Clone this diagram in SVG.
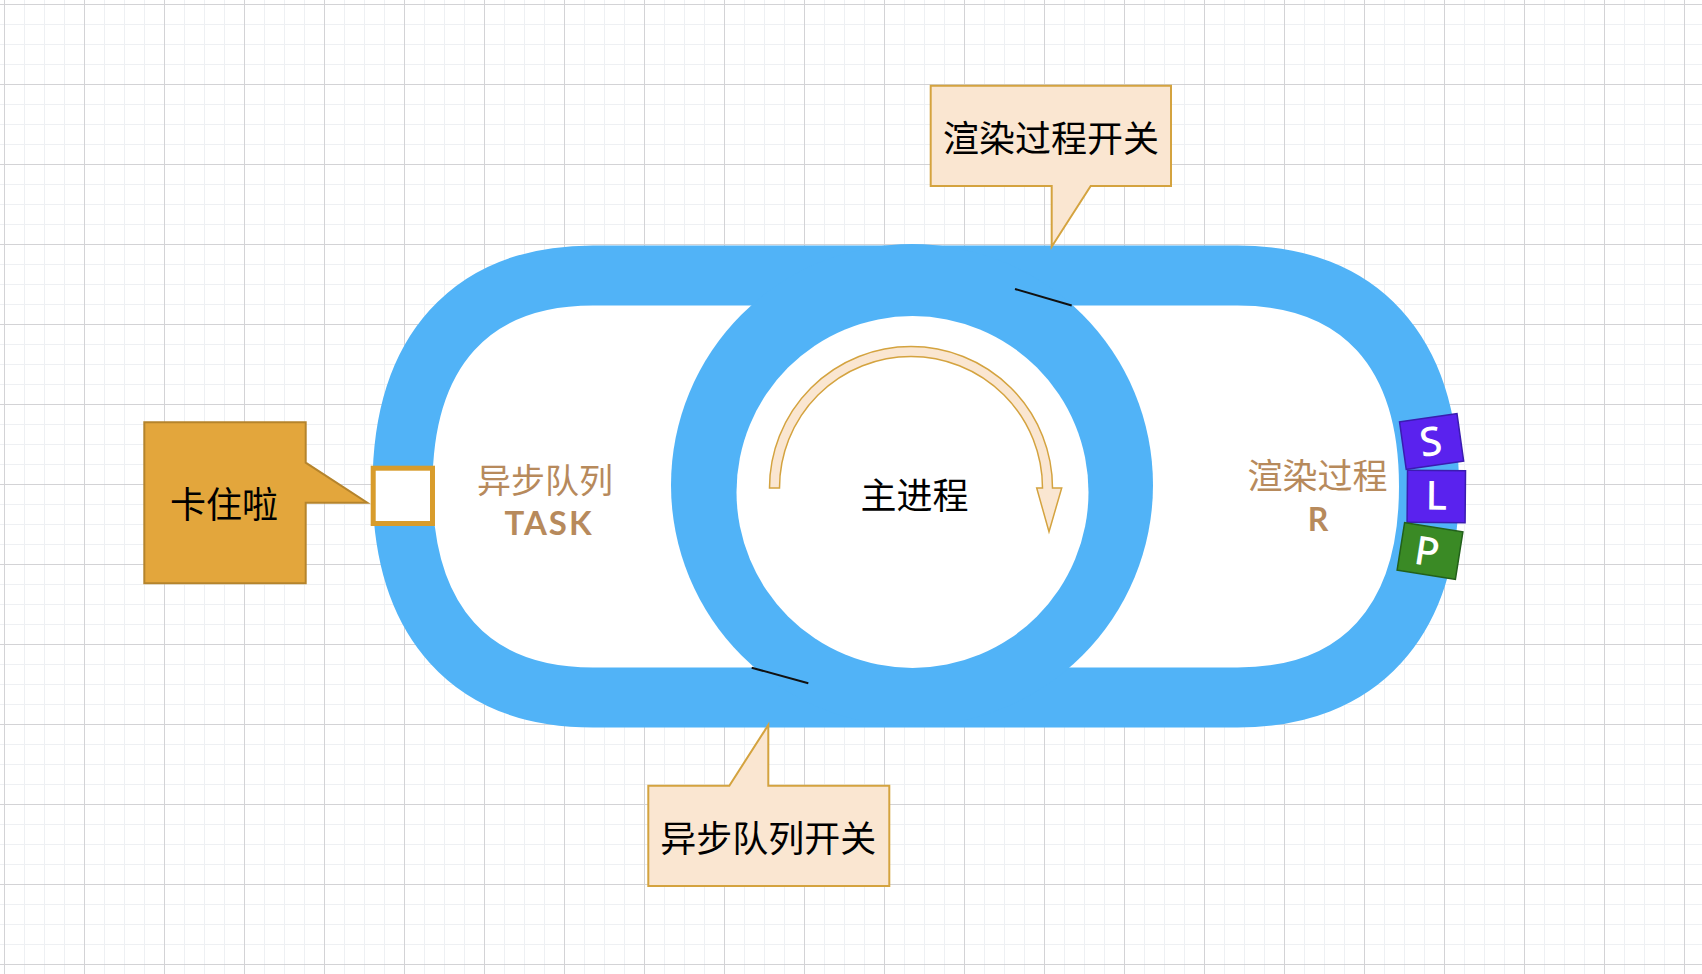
<svg xmlns="http://www.w3.org/2000/svg" width="1702" height="974" viewBox="0 0 1702 974">
<defs>
<style>
.lbl{font-family:"Noto Sans CJK SC","Noto Sans",sans-serif;font-size:36px;fill:#000;text-anchor:middle;}
.brown{font-family:"Noto Sans CJK SC","Noto Sans",sans-serif;fill:#b78a5c;text-anchor:middle;}
.latin{font-family:Lato,"Noto Sans",sans-serif;font-weight:bold;}
.call{fill:#fae6d1;stroke:#d4a33f;stroke-width:2;}
.tag{font-family:"Noto Sans",Lato,sans-serif;font-size:40px;font-weight:500;fill:#fff;text-anchor:middle;}
.sw{stroke:#111;stroke-width:2;fill:none;}
</style>
<pattern id="grid" x="4" y="4" width="80" height="80" patternUnits="userSpaceOnUse">
<path d="M20.5 0V80M40.5 0V80M60.5 0V80M0 20.5H80M0 40.5H80M0 60.5H80" stroke="#eef0f3" stroke-width="1" fill="none"/>
<path d="M0.5 0V80M0 0.5H80" stroke="#d3d3d6" stroke-width="1" fill="none"/>
</pattern>
</defs>
<rect width="1702" height="974" fill="#fff"/>
<rect width="1702" height="974" fill="url(#grid)"/>

<g id="track">
<path d="M593 275.5H1237.5C1360 275.5 1429 351.5 1429 486.5C1429 621.5 1360 697.5 1237.5 697.5H593C470.5 697.5 402.5 621.5 402.5 486.5C402.5 351.5 470.5 275.5 593 275.5Z" fill="#fff" stroke="#51b3f7" stroke-width="60"/>
</g>
<g id="main-process">
<circle cx="912" cy="485" r="241" fill="#51b3f7"/>
<circle cx="912.5" cy="492" r="176" fill="#fff"/>
<text class="lbl" x="914.5" y="509">主进程</text>
</g>

<g id="switches">
<line class="sw" x1="1015" y1="289" x2="1071.7" y2="305.5"/>
<line class="sw" x1="751.7" y1="667.7" x2="808.3" y2="683.3"/>
</g>

<g id="connectors">
<path d="M779.5 488H769.5A141.5 141.5 0 0 1 1052.5 488H1061.7L1049 531.7L1036.7 488H1042.5A131.5 131.5 0 0 0 779.5 488Z" fill="#fae6d1" stroke="#d4a33f" stroke-width="1.5" stroke-linejoin="miter"/>
</g>

<g id="async-queue">
<text class="brown" x="545" y="493" font-size="34">异步队列</text>
<text class="brown latin" x="549" y="535" font-size="33" letter-spacing="2">TASK</text>
</g>

<g id="render-process">
<text class="brown" x="1317.5" y="489" font-size="35">渲染过程</text>
<text class="brown latin" x="1318" y="531" font-size="32">R</text>
</g>

<g id="stuck-block">
<rect x="373.2" y="468.2" width="59.3" height="55.3" fill="#fff" stroke="#d89c2c" stroke-width="5"/>
</g>

<g id="stuck-callout">
<path d="M144.3 422.3H305.7V462.7L367.3 502.7H305.7V583.3H144.3Z" fill="#e3a63c" stroke="#b5842c" stroke-width="2"/>
<text class="lbl" x="224" y="518">卡住啦</text>
</g>

<g id="render-switch-callout">
<path class="call" d="M930.7 85.7H1171V186H1090.7L1051.7 246.7V186H930.7Z"/>
<text class="lbl" x="1051" y="152">渲染过程开关</text>
</g>

<g id="async-switch-callout">
<path class="call" d="M648.3 785.7H729.3L768.3 725V785.7H889.3V886H648.3Z"/>
<text class="lbl" x="768.3" y="852">异步队列开关</text>
</g>

<g id="tag-s" transform="translate(1431.6 441.5) rotate(-8)">
<rect x="-29" y="-24" width="58" height="48" fill="#5a22ee" stroke="#3a1cb0" stroke-width="1.5"/>
<text class="tag" x="-1" y="14">S</text>
</g>
<g id="tag-l" transform="translate(1436.3 496.5) rotate(0.5)">
<rect x="-29" y="-26" width="58" height="52" fill="#5a22ee" stroke="#3a1cb0" stroke-width="1.5"/>
<text class="tag" x="0" y="13">L</text>
</g>
<g id="tag-p" transform="translate(1430 551) rotate(9)">
<rect x="-29.5" y="-24" width="59" height="48" fill="#3a8a25" stroke="#22601a" stroke-width="1.5"/>
<text class="tag" x="-3" y="15">P</text>
</g>
</svg>
